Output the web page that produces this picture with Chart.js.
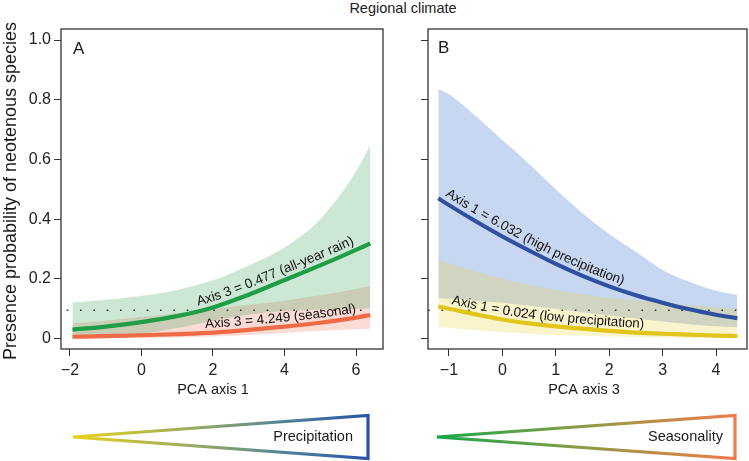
<!DOCTYPE html>
<html>
<head>
<meta charset="utf-8">
<script src="https://cdn.jsdelivr.net/npm/chart.js@4.4.1/dist/chart.umd.min.js"></script>
<style>
  html, body { margin: 0; padding: 0; background: #fff; }
  #wrap { position: relative; width: 749px; height: 461px; overflow: hidden; font-family: 'Liberation Sans', Arial, sans-serif; }
  #title { position: absolute; top: 0; left: 403px; transform: translateX(-50%); font-size: 14.5px; line-height: 16px; color: #222; white-space: nowrap; }
  canvas { position: absolute; top: 0; }
  #chartA { left: 0; }
  #chartB { left: 392px; }
</style>
</head>
<body>
<div id="wrap">
  <div id="title">Regional climate</div>
  <canvas id="chartA" width="392" height="461"></canvas>
  <canvas id="chartB" width="357" height="461"></canvas>
</div>
<script>
'use strict';

// --- DATA: panel A (PCA axis 1) ---
const xA = [-1.93, -1, 0, 1, 2, 3, 4, 5, 6, 6.4];
const rainFit  = [0.030, 0.040, 0.055, 0.075, 0.104, 0.147, 0.196, 0.245, 0.297, 0.319];
const rainHigh = [0.121, 0.130, 0.143, 0.163, 0.195, 0.245, 0.305, 0.400, 0.560, 0.648];
const rainLow  = [0.004, 0.008, 0.016, 0.035, 0.060, 0.080, 0.092, 0.097, 0.100, 0.101];
const seasFit  = [0.006, 0.008, 0.011, 0.015, 0.020, 0.029, 0.040, 0.053, 0.070, 0.079];
const seasHigh = [0.051, 0.060, 0.072, 0.085, 0.099, 0.113, 0.127, 0.145, 0.166, 0.176];
const seasLow  = [0.001, 0.0015, 0.002, 0.004, 0.007, 0.012, 0.019, 0.026, 0.031, 0.034];

// --- DATA: panel B (PCA axis 3) ---
const xB = [-1.2, -1, -0.5, 0, 0.5, 1, 1.5, 2, 2.5, 3, 3.5, 4, 4.4];
const highFit  = [0.470, 0.447, 0.393, 0.342, 0.295, 0.250, 0.210, 0.175, 0.145, 0.120, 0.098, 0.080, 0.068];
const highUp   = [0.835, 0.818, 0.745, 0.665, 0.585, 0.500, 0.420, 0.350, 0.290, 0.230, 0.190, 0.160, 0.146];
const highLow  = [0.135, 0.133, 0.127, 0.120, 0.110, 0.100, 0.088, 0.077, 0.067, 0.057, 0.048, 0.041, 0.038];
const lowFit   = [0.107, 0.100, 0.081, 0.064, 0.051, 0.041, 0.033, 0.026, 0.020, 0.016, 0.013, 0.010, 0.0085];
const lowUp    = [0.265, 0.252, 0.225, 0.200, 0.180, 0.163, 0.148, 0.137, 0.127, 0.120, 0.112, 0.105, 0.100];
const lowLow   = [0.040, 0.036, 0.028, 0.021, 0.016, 0.012, 0.009, 0.007, 0.005, 0.004, 0.003, 0.0025, 0.002];

// dotted reference level
const refXA = [-2.09, 6.48];
const refXB = [-1.39, 4.39];
const refLevel = [0.095, 0.095];

// ticks
const yTicks = [0, 0.2, 0.4, 0.6, 0.8, 1.0];
const yTickLabels = ['0', '0.2', '0.4', '0.6', '0.8', '1.0'];
const xTicksA = [-2, 0, 2, 4, 6];
const xTickLabelsA = ['\u22122', '0', '2', '4', '6'];
const xTicksB = [-1, 0, 1, 2, 3, 4];
const xTickLabelsB = ['\u22121', '0', '1', '2', '3', '4'];

const FONT = "'Liberation Sans', Arial, sans-serif";

const pts = (xs, ys) => xs.map((x, i) => ({ x: x, y: ys[i] }));

function fitLine(xs, ys, color, w) {
    return { data: pts(xs, ys), borderColor: color, borderWidth: w, pointRadius: 0, fill: false,
             cubicInterpolationMode: 'monotone', borderCapStyle: 'butt' };
}
function bandTop(xs, ys, color) {
    return { data: pts(xs, ys), borderColor: 'rgba(0,0,0,0)', borderWidth: 0, pointRadius: 0,
             fill: '+1', backgroundColor: color, cubicInterpolationMode: 'monotone' };
}
function bandBottom(xs, ys) {
    return { data: pts(xs, ys), borderColor: 'rgba(0,0,0,0)', borderWidth: 0, pointRadius: 0,
             fill: false, cubicInterpolationMode: 'monotone' };
}
function refLine(xs) {
    return { data: pts(xs, refLevel), borderColor: '#333', borderWidth: 1.6, borderDash: [1.6, 11.73],
             pointRadius: 0, fill: false };
}

// sample the drawn (bezier) curve of a dataset in pixels
function curvePixels(chart, idx) {
    const p = chart.getDatasetMeta(idx).data;
    const out = [];
    for (let i = 0; i < p.length - 1; i++) {
        const a = p[i], b = p[i + 1];
        const c1x = a.cp2x ?? a.x, c1y = a.cp2y ?? a.y;
        const c2x = b.cp1x ?? b.x, c2y = b.cp1y ?? b.y;
        for (let k = 0; k < 24; k++) {
            const t = k / 24, u = 1 - t;
            out.push([
                u * u * u * a.x + 3 * u * u * t * c1x + 3 * u * t * t * c2x + t * t * t * b.x,
                u * u * u * a.y + 3 * u * u * t * c1y + 3 * u * t * t * c2y + t * t * t * b.y
            ]);
        }
    }
    const l = p[p.length - 1];
    out.push([l.x, l.y]);
    return out;
}

function curvedText(ctx, line, text, startPx, offset) {
    const cum = [0];
    for (let i = 1; i < line.length; i++) {
        cum.push(cum[i - 1] + Math.hypot(line[i][0] - line[i - 1][0], line[i][1] - line[i - 1][1]));
    }
    const at = s => {
        s = Math.max(0, Math.min(cum[cum.length - 1], s));
        let i = 0;
        while (i < cum.length - 2 && cum[i + 1] < s) i++;
        const f = (s - cum[i]) / ((cum[i + 1] - cum[i]) || 1);
        return [line[i][0] + f * (line[i + 1][0] - line[i][0]), line[i][1] + f * (line[i + 1][1] - line[i][1])];
    };
    let s = 0;
    for (let i = 0; i < line.length; i++) { if (line[i][0] >= startPx) { s = cum[i]; break; } }
    ctx.textAlign = 'center';
    ctx.textBaseline = 'alphabetic';
    for (const ch of text) {
        const w = ctx.measureText(ch).width;
        const m = s + w / 2;
        const p = at(m), p1 = at(m - 5), p2 = at(m + 5);
        const th = Math.atan2(p2[1] - p1[1], p2[0] - p1[0]);
        ctx.save();
        ctx.translate(p[0] + Math.sin(th) * offset, p[1] - Math.cos(th) * offset);
        ctx.rotate(th);
        ctx.fillText(ch, 0, 0);
        ctx.restore();
        s += w;
    }
}

const decor = {
    id: 'decor',
    afterDraw(chart, args, o) {
        const ctx = chart.ctx, a = chart.chartArea;
        ctx.save();
        ctx.strokeStyle = '#333';
        ctx.lineWidth = 1.3;
        ctx.strokeRect(a.left, a.top, a.right - a.left, a.bottom - a.top);

        ctx.fillStyle = '#1a1a1a';
        ctx.font = '17px ' + FONT;
        ctx.textAlign = 'left';
        ctx.textBaseline = 'middle';
        ctx.fillText(o.letter, o.letterX, o.letterY);

        ctx.font = '14.5px ' + FONT;
        ctx.textAlign = 'center';
        ctx.fillText(o.xTitle, o.xTitleX, 390);

        if (o.yTitle) {
            ctx.save();
            ctx.translate(11, 191);
            ctx.rotate(-Math.PI / 2);
            ctx.font = '18px ' + FONT;
            ctx.fillText(o.yTitle, 0, 0);
            ctx.restore();
        }

        // labels along the curves
        ctx.fillStyle = '#111';
        ctx.font = '13.5px ' + FONT;
        const xs = chart.scales.x;
        o.labels.forEach(l => {
            curvedText(ctx, curvePixels(chart, l.ds), l.text, xs.getPixelForValue(l.start), l.offset);
        });

        // gradient triangle below the panel
        const t = o.tri;
        const g = ctx.createLinearGradient(t.x0, 0, t.x1, 0);
        t.stops.forEach(s => g.addColorStop(s[0], s[1]));
        ctx.strokeStyle = g;
        ctx.lineWidth = 3.2;
        ctx.lineJoin = 'miter';
        ctx.beginPath();
        ctx.moveTo(t.x0, 437);
        ctx.lineTo(t.x1, 415.5);
        ctx.lineTo(t.x1, 458.5);
        ctx.closePath();
        ctx.stroke();
        ctx.fillStyle = '#1a1a1a';
        ctx.font = '14.5px ' + FONT;
        ctx.textAlign = 'right';
        ctx.textBaseline = 'middle';
        ctx.fillText(t.text, t.textX, 437);
        ctx.restore();
    }
};

function scales(xmin, xmax, xTicks, xLabels, yWidth, yLabels) {
    const tickFont = { size: 16, family: FONT };
    return {
        x: {
            type: 'linear', min: xmin, max: xmax,
            afterBuildTicks: s => { s.ticks = xTicks.map(v => ({ value: v })); },
            afterFit: s => { s.height = 51; },
            border: { display: false },
            grid: { drawOnChartArea: false, drawTicks: true, tickLength: 7, color: '#333', lineWidth: 1 },
            ticks: { font: tickFont, color: '#222', padding: 5, autoSkip: false, maxRotation: 0,
                     callback: (v, i) => xLabels[i] }
        },
        y: {
            type: 'linear', min: -0.035, max: 1.037,
            afterBuildTicks: s => { s.ticks = yTicks.map(v => ({ value: v })); },
            afterFit: s => { s.width = yWidth; },
            border: { display: false },
            grid: { drawOnChartArea: false, drawTicks: true, tickLength: 7, color: '#333', lineWidth: 1 },
            ticks: { font: tickFont, color: '#222', padding: 3, autoSkip: false,
                     callback: (v, i) => yLabels ? yLabels[i] : '' }
        }
    };
}

new Chart(document.getElementById('chartA'), {
    type: 'line',
    data: {
        datasets: [
            fitLine(xA, rainFit, '#1f9e47', 4.2),
            fitLine(xA, seasFit, '#ef6b48', 4.2),
            refLine(refXA),
            bandTop(xA, rainHigh, 'rgba(40,160,80,0.24)'),
            bandBottom(xA, rainLow),
            bandTop(xA, seasHigh, 'rgba(240,110,80,0.24)'),
            bandBottom(xA, seasLow)
        ]
    },
    options: {
        responsive: false, animation: false, devicePixelRatio: 1,
        layout: { padding: { top: 29, right: 9, bottom: 61, left: 0 } },
        scales: scales(-2.25, 6.755, xTicksA, xTickLabelsA, 61, yTickLabels),
        plugins: {
            legend: { display: false }, tooltip: { enabled: false },
            decor: {
                letter: 'A', letterX: 73, letterY: 49,
                xTitle: 'PCA axis 1', xTitleX: 213,
                yTitle: 'Presence probability of neotenous species',
                labels: [
                    { ds: 0, text: 'Axis 3 = 0.477 (all-year rain)', start: 1.61, offset: 6 },
                    { ds: 1, text: 'Axis 3 = 4.249 (seasonal)', start: 1.75, offset: 5 }
                ],
                tri: { x0: 73, x1: 368, text: 'Precipitation', textX: 353,
                       stops: [[0, '#e9d31a'], [0.45, '#8ea66a'], [0.75, '#4c809b'], [1, '#2a52a8']] }
            }
        }
    },
    plugins: [decor]
});

new Chart(document.getElementById('chartB'), {
    type: 'line',
    data: {
        datasets: [
            fitLine(xB, highFit, '#2f4f9f', 4),
            fitLine(xB, lowFit, '#e2c51a', 4.2),
            refLine(refXB),
            bandTop(xB, lowUp, 'rgba(235,210,40,0.24)'),
            bandBottom(xB, lowLow),
            bandTop(xB, highUp, 'rgba(70,120,210,0.30)'),
            bandBottom(xB, highLow)
        ]
    },
    options: {
        responsive: false, animation: false, devicePixelRatio: 1,
        layout: { padding: { top: 29, right: 2, bottom: 61, left: 0 } },
        scales: scales(-1.393, 4.58, xTicksB, xTickLabelsB, 36, null),
        plugins: {
            legend: { display: false }, tooltip: { enabled: false },
            decor: {
                letter: 'B', letterX: 46, letterY: 48,
                xTitle: 'PCA axis 3', xTitleX: 192,
                yTitle: null,
                labels: [
                    { ds: 0, text: 'Axis 1 = 6.032 (high precipitation)', start: -1.14, offset: 6 },
                    { ds: 1, text: 'Axis 1 = 0.024 (low precipitation)', start: -0.98, offset: 5 }
                ],
                tri: { x0: 45, x1: 343, text: 'Seasonality', textX: 331,
                       stops: [[0, '#18a64a'], [0.5, '#8f9c45'], [1, '#f07a4a']] }
            }
        }
    },
    plugins: [decor]
});
</script>
</body>
</html>
